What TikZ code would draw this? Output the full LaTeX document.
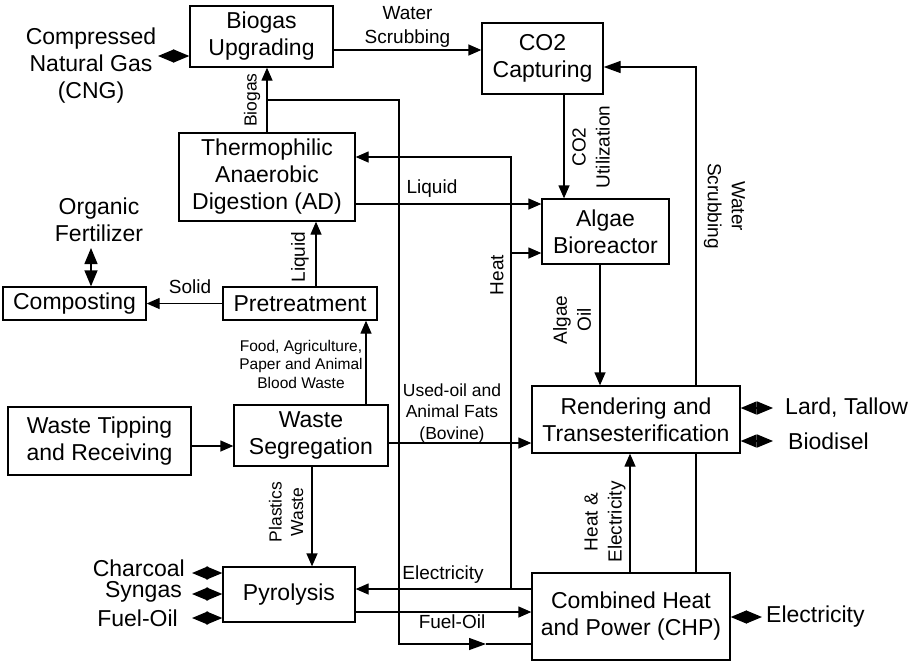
\documentclass[tikz,border=0pt]{standalone}
\usepackage{fontspec}
\setmainfont{Liberation Sans}
\usetikzlibrary{arrows.meta}
\newcommand\Lbig{\fontsize{23}{27}\selectfont}
\newcommand\Lmed{\fontsize{19}{24}\selectfont}
\newcommand\Lsml{\fontsize{17.5}{21.5}\selectfont}
\newcommand\Ltin{\fontsize{15.5}{18.5}\selectfont}
\begin{document}
\begin{tikzpicture}[x=1pt,y=-1pt,
  box/.style={draw, line width=1.3pt, inner sep=0pt, align=center, font=\Lbig},
  arr/.style={line width=1.3pt, -{Triangle[length=13pt,width=11pt]}},
  barr/.style={line width=1.3pt, -{Triangle[length=17pt,width=12pt]}},
  ln/.style={line width=1.3pt},
  dbl/.style={line width=1.3pt, {Triangle[length=16pt,width=13pt]}-{Triangle[length=16pt,width=13pt]}},
  lbl/.style={inner sep=0pt, align=center, font=\Lmed},
  slbl/.style={inner sep=0pt, align=center, font=\Lsml},
  tlbl/.style={inner sep=0pt, align=center, font=\Ltin},
  olbl/.style={inner sep=0pt, align=center, font=\Lbig}]
\fill[white] (0,0) rectangle (912,662);
\useasboundingbox (0,0) rectangle (912,662);

% boxes
\node[box, minimum width=143pt, minimum height=61pt] (bup) at (261.5,36.5) {Biogas\\Upgrading};
\node[box, minimum width=121pt, minimum height=71pt] (co2) at (542.5,58.5) {CO2\\Capturing};
\node[box, minimum width=176pt, minimum height=88pt] (ad) at (267,177) {Thermophilic\\Anaerobic\\Digestion (AD)};
\node[box, minimum width=143pt, minimum height=33pt] (comp) at (74.5,303.5) {Composting};
\node[box, minimum width=154pt, minimum height=33pt] (pre) at (300,303.5) {Pretreatment};
\node[box, minimum width=127pt, minimum height=65pt] (alg) at (605.5,231.5) {Algae\\Bioreactor};
\node[box, minimum width=208pt, minimum height=67pt] (rend) at (636,419.5) {Rendering and\\Transesterification};
\node[box, minimum width=183pt, minimum height=68pt] (wtr) at (99.5,441) {Waste Tipping\\and Receiving};
\node[box, minimum width=154pt, minimum height=61pt] (wseg) at (311,435.5) {Waste\\Segregation};
\node[box, minimum width=132pt, minimum height=55pt] (pyr) at (289,594.5) {Pyrolysis};
\node[box, minimum width=198pt, minimum height=87pt] (chp) at (631,616.5) {Combined Heat\\and Power (CHP)};

% outer labels
\node[olbl] (cng) at (91,66) {Compressed\\Natural Gas\\(CNG)};
\node[olbl] (ofert) at (99,220) {Organic\\Fertilizer};
\node[olbl, anchor=west] (lard) at (785,408) {Lard, Tallow};
\node[olbl, anchor=west] (biod) at (788,441) {Biodisel};
\node[olbl, anchor=west] (elout) at (766,617) {Electricity};
\node[olbl, anchor=east] (charc) at (185,568) {Charcoal};
\node[olbl, anchor=east] (syng) at (182,592) {Syngas};
\node[olbl, anchor=east] (fuelo) at (178,618) {Fuel-Oil};

% helper coordinates
\coordinate (cngL) at (158,56);
\coordinate (fertB) at (91,248);
\coordinate (bj) at (267,100);
\coordinate (hx) at (511,589);
\coordinate (hb) at (511,253);
\coordinate (lardL) at (773,408);
\coordinate (biodL) at (773,441);
\coordinate (elL) at (762,617);
\coordinate (charR) at (192,573);
\coordinate (syngR) at (192,594);
\coordinate (fuelR) at (192,618);

% double arrows
\draw[dbl] (cngL) -- (cngL -| bup.west);
\draw[dbl] (fertB) -- (fertB |- comp.north);
\draw[dbl] (lardL -| rend.east) -- (lardL);
\draw[dbl] (biodL -| rend.east) -- (biodL);
\draw[dbl] (elL -| chp.east) -- (elL);
\draw[dbl] (charR) -- (charR -| pyr.west);
\draw[dbl] (syngR) -- (syngR -| pyr.west);
\draw[dbl] (fuelR) -- (fuelR -| pyr.west);

% connectors
\draw[arr] (bup.east |- 0,50) -- node[lbl, above=2pt] {Water\\Scrubbing} (co2.west |- 0,50);
\draw[arr] (ad.north) -- (ad.north |- bup.south);
\node[slbl, rotate=90] at (252,100) {Biogas};
\draw[barr] (bj) -| (399,644) -- (486,644);
\draw[ln] (486,644) -- (chp.west |- 0,644);
\draw[arr] (hx) |- (ad.east |- 0,157);
\draw[arr] (hb) -- (alg.west |- hb);
\node[lbl, rotate=90] at (497,275) {Heat};
\draw[arr] (ad.east |- 0,204) -- (alg.west |- 0,204);
\node[lbl] at (432,189) {Liquid};
\draw[arr] (co2.south -| 564,0) -- (alg.north -| 564,0);
\node[lbl, rotate=90] at (591,147) {CO2\\Utilization};
\draw[arr] (alg.south -| 600,0) -- (rend.north -| 600,0);
\node[lbl, rotate=90] at (572,320) {Algae\\Oil};
\draw[arr] (pre.west) -- (comp.east);
\node[lbl] at (190,287) {Solid};
\draw[arr] (pre.north -| 316,0) -- (ad.south -| 316,0);
\node[lbl, rotate=90] at (300,257) {Liquid};
\draw[arr] (wseg.north -| 366,0) -- (pre.south -| 366,0);
\node[tlbl] at (301,364) {Food, Agriculture,\\Paper and Animal\\Blood Waste};
\draw[arr] (wtr.east |- 0,446) -- (wseg.west |- 0,446);
\draw[arr] (wseg.east |- 0,443) -- (rend.west |- 0,443);
\node[slbl] at (452,413) {Used-oil and\\Animal Fats\\(Bovine)};
\draw[arr] (wseg.south -| 312,0) -- (pyr.north -| 312,0);
\node[slbl, rotate=90] at (286,512) {Plastics\\Waste};
\draw[arr] (chp.west |- hx) -- (pyr.east |- hx);
\node[lbl] at (443,575) {Electricity};
\draw[arr] (pyr.east |- 0,612) -- (chp.west |- 0,612);
\node[lbl] at (452,622) {Fuel-Oil};
\draw[arr] (chp.north -| 630,0) -- (rend.south -| 630,0);
\node[lbl, rotate=90] at (605,522) {Heat \&\\Electricity};
\draw[ln] (chp.north -| 696,0) -- (rend.south -| 696,0);
\draw[barr] (rend.north -| 696,0) |- (co2.east |- 0,67);
\node[lbl, rotate=-90] at (724.5,206) {Water\\Scrubbing};
\end{tikzpicture}
\end{document}
